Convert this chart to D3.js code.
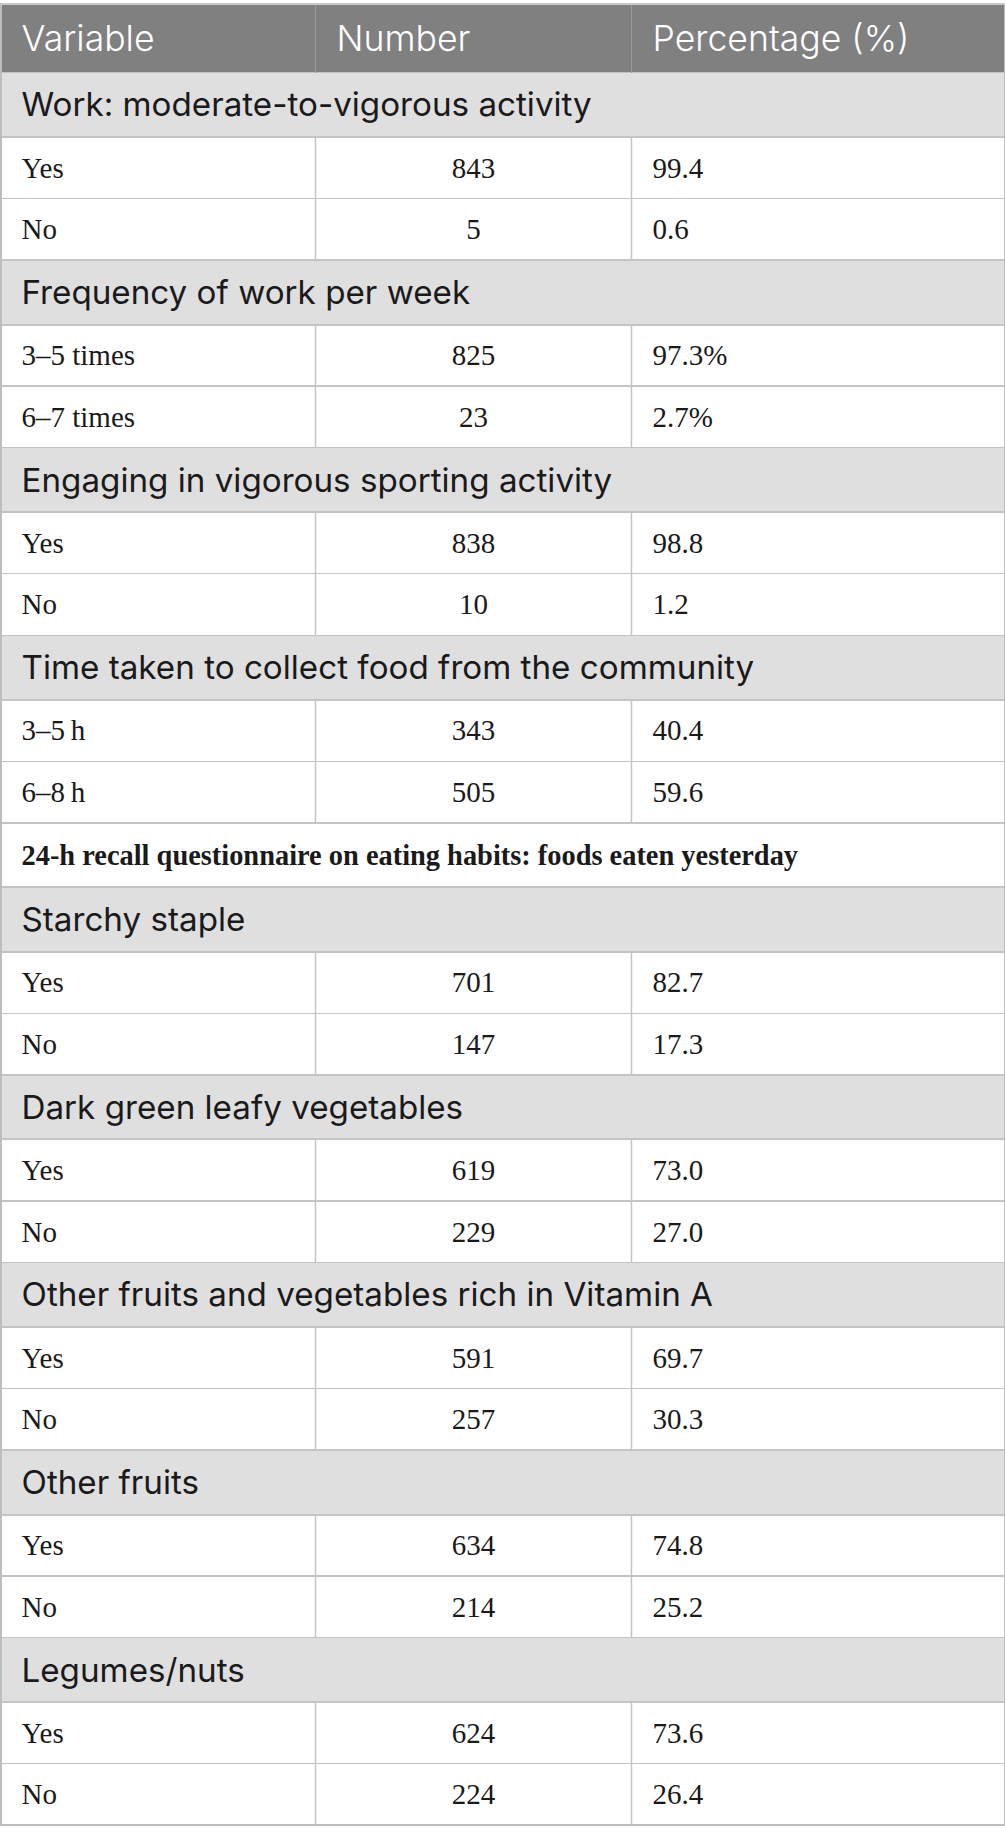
<!DOCTYPE html>
<html lang="en">
  <head>
    <meta charset="utf-8">
    <title>Activity and eating habits table</title>
    <style>
      body {margin: 0; background: #fff;}
      svg {display: block;}
      .head text {font-family: Inter, Lato, sans-serif; font-size: 35.6px; font-weight: 300; fill: #fff;}
      .group text {font-family: Inter, Lato, sans-serif; font-size: 33.2px; font-weight: 400; fill: #1a1a1a;}
      .note text {font-family: "Liberation Serif", serif; font-size: 28.4px; font-weight: bold; fill: #1a1a1a;}
      .data text {font-family: "Liberation Serif", serif; font-size: 29px; fill: #1a1a1a;}
    </style>
    <script src="https://d3js.org/d3.v7.min.js"></script>
  </head>
  <body>
    <script type="text/javascript">
      // column headings
      var headings = ["Variable", "Number", "Percentage (%)"];

      // section titles (null marks the bold note row)
      var groups = [
        "Work: moderate-to-vigorous activity",
        "Frequency of work per week",
        "Engaging in vigorous sporting activity",
        "Time taken to collect food from the community",
        null,
        "Starchy staple",
        "Dark green leafy vegetables",
        "Other fruits and vegetables rich in Vitamin A",
        "Other fruits",
        "Legumes/nuts"
      ];
      var note = "24-h recall questionnaire on eating habits: foods eaten yesterday";

      // answers, counts and shares, two per section
      var answers = [
        ["Yes", "No"],
        ["3\u20135 times", "6\u20137 times"],
        ["Yes", "No"],
        ["3\u20135\u2009h", "6\u20138\u2009h"],
        [],
        ["Yes", "No"],
        ["Yes", "No"],
        ["Yes", "No"],
        ["Yes", "No"],
        ["Yes", "No"]
      ];
      var numbers = [
        [843, 5],
        [825, 23],
        [838, 10],
        [343, 505],
        [],
        [701, 147],
        [619, 229],
        [591, 257],
        [634, 214],
        [624, 224]
      ];
      var percents = [
        ["99.4", "0.6"],
        ["97.3%", "2.7%"],
        ["98.8", "1.2"],
        ["40.4", "59.6"],
        [],
        ["82.7", "17.3"],
        ["73.0", "27.0"],
        ["69.7", "30.3"],
        ["74.8", "25.2"],
        ["73.6", "26.4"]
      ];

      // layout
      var W = 1005, H = 1841;
      var colEdges = [0.5, 315.5, 631.5, 1004.5];
      var tableTop = 4, headH = 68.5, groupH = 64.4, rowH = 61.6;
      var pad = 21;

      // flatten into table rows
      var rows = [];
      groups.forEach(function(g, i) {
        if (g === null) {
          rows.push({type: "note", text: note});
        } else {
          rows.push({type: "group", text: g});
        }
        answers[i].forEach(function(a, j) {
          rows.push({type: "data", cells: [a, numbers[i][j], percents[i][j]]});
        });
      });

      var yPos = tableTop + headH;
      rows.forEach(function(r) {
        r.y = yPos;
        r.h = r.type === "data" ? rowH : groupH;
        yPos += r.h;
      });
      var tableBottom = yPos;

      // column edge scale: x(i) is the left edge of column i
      var x = d3.scaleOrdinal()
        .domain(d3.range(colEdges.length))
        .range(colEdges);
      var tableLeft = x(0), tableRight = x(3);

      var svg = d3.select("body").append("svg")
        .attr("width", W)
        .attr("height", H);

      // header
      var head = svg.append("g").attr("class", "head");
      head.append("rect")
        .attr("x", tableLeft)
        .attr("y", tableTop)
        .attr("width", tableRight - tableLeft)
        .attr("height", headH)
        .attr("fill", "#808080");
      head.selectAll("text")
        .data(headings)
        .enter()
        .append("text")
        .attr("x", function(d, i) { return x(i) + pad; })
        .attr("y", tableTop + headH / 2)
        .attr("dy", "0.36em")
        .text(function(d) { return d; });

      // section rows
      var sec = svg.append("g").selectAll("g")
        .data(rows.filter(function(r) { return r.type !== "data"; }))
        .enter()
        .append("g")
        .attr("class", function(d) { return d.type; });
      sec.append("rect")
        .attr("x", tableLeft)
        .attr("y", function(d) { return d.y; })
        .attr("width", tableRight - tableLeft)
        .attr("height", function(d) { return d.h; })
        .attr("fill", function(d) { return d.type === "group" ? "#e0dfe0" : "#fff"; });
      sec.append("text")
        .attr("x", tableLeft + pad)
        .attr("y", function(d) { return d.y + d.h / 2; })
        .attr("dy", "0.35em")
        .text(function(d) { return d.text; });

      // data rows
      var dataRows = rows.filter(function(r) { return r.type === "data"; });
      var dr = svg.append("g").attr("class", "data").selectAll("g")
        .data(dataRows)
        .enter()
        .append("g");
      dr.selectAll("text")
        .data(function(d) { return d.cells.map(function(c, i) { return {v: c, i: i, row: d}; }); })
        .enter()
        .append("text")
        .attr("x", function(d) {
          return d.i === 1 ? (x(1) + x(2)) / 2 : x(d.i) + pad;
        })
        .attr("y", function(d) { return d.row.y + d.row.h / 2; })
        .attr("dy", "0.34em")
        .attr("text-anchor", function(d) { return d.i === 1 ? "middle" : "start"; })
        .text(function(d) { return d.v; });

      // grid lines
      var grid = svg.append("g")
        .attr("fill", "none")
        .attr("shape-rendering", "crispEdges");

      // horizontal rules
      grid.selectAll("line.h")
        .data(rows)
        .enter()
        .append("line")
        .attr("class", "h")
        .attr("x1", tableLeft)
        .attr("x2", tableRight)
        .attr("y1", function(d) { return d.y; })
        .attr("y2", function(d) { return d.y; })
        .attr("stroke", "#c4c4c4")
        .attr("stroke-width", function(d, i) {
          return i > 0 && rows[i - 1].type !== "data" ? 2 : 1.5;
        });

      // column dividers in the header and in data rows
      grid.selectAll("line.hv")
        .data([1, 2])
        .enter()
        .append("line")
        .attr("x1", function(d) { return x(d); })
        .attr("x2", function(d) { return x(d); })
        .attr("y1", tableTop)
        .attr("y2", tableTop + headH)
        .attr("stroke", "#9a9a9a")
        .attr("stroke-width", 1.5);
      dr.selectAll("line")
        .data(function(d) { return [1, 2].map(function(c) { return {c: c, row: d}; }); })
        .enter()
        .append("line")
        .attr("x1", function(d) { return x(d.c); })
        .attr("x2", function(d) { return x(d.c); })
        .attr("y1", function(d) { return d.row.y; })
        .attr("y2", function(d) { return d.row.y + d.row.h; })
        .attr("stroke", "#c4c4c4")
        .attr("stroke-width", 1.5);

      // outer frame
      grid.append("rect")
        .attr("x", tableLeft)
        .attr("y", tableTop)
        .attr("width", tableRight - tableLeft)
        .attr("height", tableBottom - tableTop)
        .attr("stroke", "#bdbdbd")
        .attr("stroke-width", 2);
      grid.append("line")
        .attr("x1", tableLeft)
        .attr("x2", tableRight)
        .attr("y1", tableTop)
        .attr("y2", tableTop)
        .attr("stroke", "#c8c8c8")
        .attr("stroke-width", 2);
    </script>
  </body>
</html>
